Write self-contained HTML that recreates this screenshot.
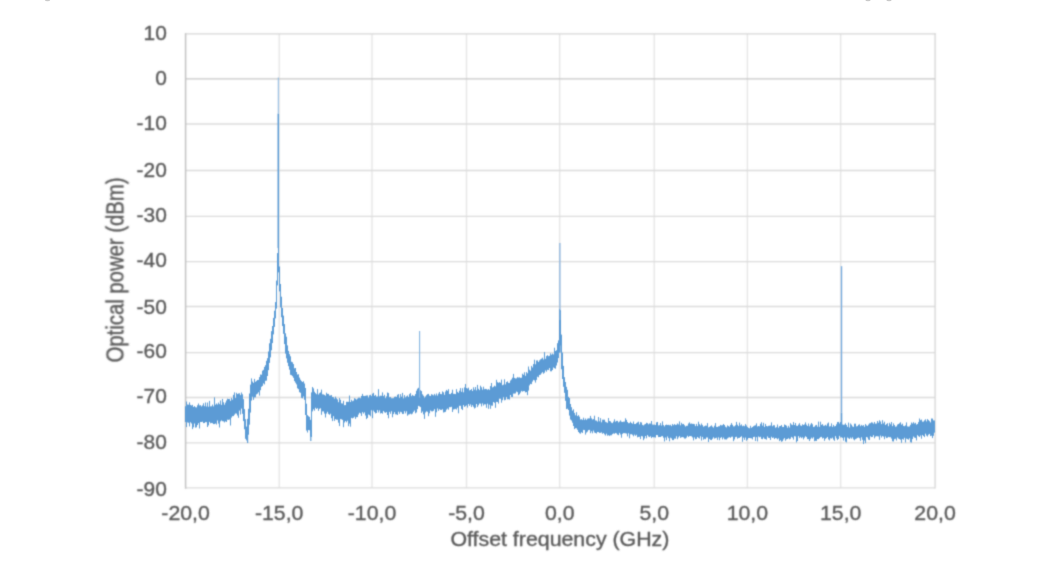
<!DOCTYPE html>
<html><head><meta charset="utf-8"><style>
html,body{margin:0;padding:0;background:#fff;width:1053px;height:573px;overflow:hidden}
svg{display:block;font-family:"Liberation Sans",sans-serif}
.g{stroke:#dbdbdb;stroke-width:1.3}
.gv{stroke:#e4e4e4;stroke-width:1.3}
.ax0{stroke:#c6c6c6;stroke-width:1.3}
.ax{stroke:#c2c2c2;stroke-width:1.5;stroke-linecap:square}
.bd{stroke:#d6d6d6;stroke-width:1.3;stroke-linecap:square}
.t{fill:#595959;font-size:20px;stroke:#595959;stroke-width:0.35}
.tr{stroke:#5b9bd5;stroke-width:1.0;fill:none}
</style></head><body>
<svg width="1053" height="573" viewBox="0 0 1053 573">
<defs><filter id="bt" x="-2%" y="-2%" width="104%" height="104%" filterUnits="objectBoundingBox"><feConvolveMatrix order="5" kernelMatrix="0.00023 0.00332 0.00809 0.00332 0.00023 0.00332 0.04785 0.11640 0.04785 0.00332 0.00809 0.11640 0.28313 0.11640 0.00809 0.00332 0.04785 0.11640 0.04785 0.00332 0.00023 0.00332 0.00809 0.00332 0.00023" divisor="1" preserveAlpha="false" edgeMode="none"/></filter><filter id="bg" x="-2%" y="-2%" width="104%" height="104%" filterUnits="objectBoundingBox"><feConvolveMatrix order="5" kernelMatrix="0.00009 0.00198 0.00548 0.00198 0.00009 0.00198 0.04220 0.11707 0.04220 0.00198 0.00548 0.11707 0.32480 0.11707 0.00548 0.00198 0.04220 0.11707 0.04220 0.00198 0.00009 0.00198 0.00548 0.00198 0.00009" divisor="1" preserveAlpha="false" edgeMode="none"/></filter><filter id="bl" x="-2%" y="-2%" width="104%" height="104%" filterUnits="objectBoundingBox"><feConvolveMatrix order="5" kernelMatrix="0.00001 0.00042 0.00170 0.00042 0.00001 0.00042 0.02740 0.10988 0.02740 0.00042 0.00170 0.10988 0.44065 0.10988 0.00170 0.00042 0.02740 0.10988 0.02740 0.00042 0.00001 0.00042 0.00170 0.00042 0.00001" divisor="1" preserveAlpha="false" edgeMode="none"/></filter></defs><g fill="#8a8a8a" opacity="0.45"><ellipse cx="47.5" cy="0" rx="2.6" ry="1.3"/><ellipse cx="868" cy="0" rx="2.6" ry="1.2"/><ellipse cx="889" cy="0" rx="2.6" ry="1.2"/></g><g filter="url(#bg)"><line x1="279.2" y1="33.9" x2="279.2" y2="487.9" class="gv"/><line x1="372.0" y1="33.9" x2="372.0" y2="487.9" class="gv"/><line x1="466.5" y1="33.9" x2="466.5" y2="487.9" class="gv"/><line x1="559.7" y1="33.9" x2="559.7" y2="487.9" class="gv"/><line x1="654.2" y1="33.9" x2="654.2" y2="487.9" class="gv"/><line x1="747.4" y1="33.9" x2="747.4" y2="487.9" class="gv"/><line x1="840.7" y1="33.9" x2="840.7" y2="487.9" class="gv"/><line x1="185.6" y1="124.0" x2="935.1" y2="124.0" class="g"/><line x1="185.6" y1="170.5" x2="935.1" y2="170.5" class="g"/><line x1="185.6" y1="216.3" x2="935.1" y2="216.3" class="g"/><line x1="185.6" y1="261.7" x2="935.1" y2="261.7" class="g"/><line x1="185.6" y1="306.5" x2="935.1" y2="306.5" class="g"/><line x1="185.6" y1="352.6" x2="935.1" y2="352.6" class="g"/><line x1="185.6" y1="397.5" x2="935.1" y2="397.5" class="g"/><line x1="185.6" y1="442.9" x2="935.1" y2="442.9" class="g"/><line x1="185.6" y1="487.9" x2="935.1" y2="487.9" class="g"/><line x1="185.6" y1="33.9" x2="935.1" y2="33.9" class="bd"/><line x1="935.1" y1="33.9" x2="935.1" y2="487.9" class="bd"/><line x1="185.6" y1="78.9" x2="935.1" y2="78.9" class="ax0"/><line x1="185.6" y1="33.9" x2="185.6" y2="487.9" class="ax"/></g>
<g class="t" filter="url(#bt)"><text x="166.8" y="40.25" text-anchor="end" textLength="23.25" lengthAdjust="spacingAndGlyphs">10</text><text x="166.8" y="84.65" text-anchor="end" textLength="11.62" lengthAdjust="spacingAndGlyphs">0</text><text x="166.8" y="130.15" text-anchor="end" textLength="30.21" lengthAdjust="spacingAndGlyphs">-10</text><text x="166.8" y="177.10" text-anchor="end" textLength="30.21" lengthAdjust="spacingAndGlyphs">-20</text><text x="166.8" y="222.10" text-anchor="end" textLength="30.21" lengthAdjust="spacingAndGlyphs">-30</text><text x="166.8" y="267.30" text-anchor="end" textLength="30.21" lengthAdjust="spacingAndGlyphs">-40</text><text x="166.8" y="313.90" text-anchor="end" textLength="30.21" lengthAdjust="spacingAndGlyphs">-50</text><text x="166.8" y="358.40" text-anchor="end" textLength="30.21" lengthAdjust="spacingAndGlyphs">-60</text><text x="166.8" y="403.40" text-anchor="end" textLength="30.21" lengthAdjust="spacingAndGlyphs">-70</text><text x="166.8" y="449.00" text-anchor="end" textLength="30.21" lengthAdjust="spacingAndGlyphs">-80</text><text x="166.8" y="496.10" text-anchor="end" textLength="30.21" lengthAdjust="spacingAndGlyphs">-90</text><text x="185.60" y="519.6" text-anchor="middle" textLength="48.50" lengthAdjust="spacingAndGlyphs">-20,0</text><text x="279.20" y="519.6" text-anchor="middle" textLength="48.50" lengthAdjust="spacingAndGlyphs">-15,0</text><text x="372.00" y="519.6" text-anchor="middle" textLength="48.50" lengthAdjust="spacingAndGlyphs">-10,0</text><text x="466.50" y="519.6" text-anchor="middle" textLength="36.67" lengthAdjust="spacingAndGlyphs">-5,0</text><text x="559.70" y="519.6" text-anchor="middle" textLength="29.58" lengthAdjust="spacingAndGlyphs">0,0</text><text x="654.20" y="519.6" text-anchor="middle" textLength="29.58" lengthAdjust="spacingAndGlyphs">5,0</text><text x="747.40" y="519.6" text-anchor="middle" textLength="41.42" lengthAdjust="spacingAndGlyphs">10,0</text><text x="840.70" y="519.6" text-anchor="middle" textLength="41.42" lengthAdjust="spacingAndGlyphs">15,0</text><text x="935.10" y="519.6" text-anchor="middle" textLength="41.42" lengthAdjust="spacingAndGlyphs">20,0</text>
<text x="559.9" y="546.0" text-anchor="middle" textLength="219" lengthAdjust="spacingAndGlyphs" style="font-size:19.5px">Offset frequency (GHz)</text>
<text transform="translate(123.6 269.9) rotate(-90) scale(1 1.22)" x="0" y="0" text-anchor="middle" textLength="185" lengthAdjust="spacingAndGlyphs" style="font-size:19px">Optical power (dBm)</text>
</g>
<g filter="url(#bl)"><path class="tr" d="M185.5 406.3V422.1M186.5 401.5V427.1M187.5 404.5V422.4M188.5 404.7V422.8M189.5 402.4V426.4M190.5 404.9V422.3M191.5 405.5V423.5M192.5 404.9V429.1M193.5 407.0V427.3M194.5 406.1V423.5M195.5 407.2V427.6M196.5 407.4V427.3M197.5 405.3V425.0M198.5 403.5V423.2M199.5 405.4V428.5M200.5 405.2V422.0M201.5 406.4V422.0M202.5 405.4V421.7M203.5 403.3V423.1M204.5 406.2V423.0M205.5 402.5V422.1M206.5 406.5V422.2M207.5 402.5V427.0M208.5 406.7V425.4M209.5 400.9V421.9M210.5 406.4V423.3M211.5 406.3V422.9M212.5 404.6V423.2M213.5 406.4V424.1M214.5 397.4V424.1M215.5 404.7V423.5M216.5 403.5V424.5M217.5 404.5V420.5M218.5 402.6V423.6M219.5 404.2V427.5M220.5 400.5V421.4M221.5 404.9V420.4M222.5 398.9V421.2M223.5 402.3V421.4M224.5 404.7V422.4M225.5 402.6V421.3M226.5 400.5V422.0M227.5 398.7V419.7M228.5 399.0V419.9M229.5 398.9V419.5M230.5 400.9V425.5M231.5 397.9V417.6M232.5 399.6V416.2M233.5 394.9V416.1M234.5 392.4V414.7M235.5 397.9V413.5M236.5 392.8V413.6M237.5 394.1V415.5M238.5 393.5V417.8M239.5 393.3V410.6M240.5 395.1V414.5M241.5 392.5V408.6M242.5 394.3V413.8M243.5 399.2V421.1M244.5 409.1V429.3M245.5 419.2V438.8M246.5 426.6V440.4M247.5 418.9V438.5M248.5 408.8V434.7M249.5 393.5V424.7M250.5 384.6V412.6M251.5 378.4V400.6M252.5 381.6V396.8M253.5 382.9V399.9M254.5 378.9V397.4M255.5 381.8V397.3M256.5 380.9V394.4M257.5 380.0V393.7M258.5 379.9V392.3M259.5 377.1V395.6M260.5 374.5V390.2M261.5 374.7V386.8M262.5 370.7V385.9M263.5 369.8V383.4M264.5 366.9V384.4M265.5 365.2V380.8M266.5 360.8V380.6M267.5 358.2V376.0M268.5 351.5V370.2M269.5 343.3V362.9M270.5 338.8V357.4M271.5 331.2V350.3M272.5 326.0V343.1M273.5 317.9V334.4M274.5 310.7V326.9M275.5 302.1V318.4M276.5 280.6V308.6M277.5 253.1V285.4M278.5 244.5V272.4M279.5 266.5V291.4M280.5 284.0V307.4M281.5 296.7V317.3M282.5 307.9V326.1M283.5 315.6V333.8M284.5 324.1V344.1M285.5 333.3V353.6M286.5 336.7V358.4M287.5 345.4V362.7M288.5 350.9V366.2M289.5 354.1V369.7M290.5 356.3V374.8M291.5 361.7V375.2M292.5 362.3V376.2M293.5 364.1V377.8M294.5 368.3V381.1M295.5 368.0V382.7M296.5 372.0V384.4M297.5 374.5V388.3M298.5 374.3V389.2M299.5 377.6V392.2M300.5 379.7V392.8M301.5 381.1V397.8M302.5 382.0V398.3M303.5 381.3V396.5M304.5 383.5V399.8M305.5 388.0V415.0M306.5 403.7V430.5M307.5 415.1V432.5M308.5 416.2V430.0M309.5 416.9V430.3M310.5 419.8V436.5M311.5 392.4V437.0M312.5 387.0V411.4M313.5 388.4V409.3M314.5 391.7V410.7M315.5 393.1V407.8M316.5 394.2V409.0M317.5 389.1V408.2M318.5 394.5V410.9M319.5 393.2V408.8M320.5 392.4V408.3M321.5 389.6V414.8M322.5 394.3V411.4M323.5 394.4V411.4M324.5 394.9V413.6M325.5 395.7V417.5M326.5 392.7V413.6M327.5 393.9V411.8M328.5 393.9V413.9M329.5 395.5V414.8M330.5 395.5V413.7M331.5 395.1V418.2M332.5 397.0V421.1M333.5 397.2V416.2M334.5 398.6V420.9M335.5 396.7V419.1M336.5 398.3V419.7M337.5 399.4V419.7M338.5 402.2V422.7M339.5 398.0V426.1M340.5 399.8V419.1M341.5 403.3V419.3M342.5 403.5V419.9M343.5 400.8V427.2M344.5 405.2V422.5M345.5 405.1V421.0M346.5 401.8V422.3M347.5 401.8V420.7M348.5 401.8V426.2M349.5 395.5V423.6M350.5 402.0V426.7M351.5 399.8V417.9M352.5 401.2V418.4M353.5 400.6V417.8M354.5 398.2V416.7M355.5 398.7V418.9M356.5 399.6V417.2M357.5 398.6V417.1M358.5 397.7V414.6M359.5 397.6V412.8M360.5 398.2V413.4M361.5 396.0V415.9M362.5 393.9V412.2M363.5 395.9V413.6M364.5 396.1V412.4M365.5 395.8V415.5M366.5 395.5V419.1M367.5 395.4V417.9M368.5 397.5V414.5M369.5 395.3V415.1M370.5 394.8V416.3M371.5 396.1V410.3M372.5 393.7V418.2M373.5 392.9V410.6M374.5 395.8V412.1M375.5 394.9V413.4M376.5 396.6V413.0M377.5 396.5V410.1M378.5 389.2V412.5M379.5 396.4V410.4M380.5 395.7V413.5M381.5 395.8V413.0M382.5 392.4V413.7M383.5 396.2V411.0M384.5 394.8V412.3M385.5 398.1V412.8M386.5 396.4V412.1M387.5 392.5V415.0M388.5 393.1V418.3M389.5 397.2V411.9M390.5 397.1V413.8M391.5 398.2V411.3M392.5 398.2V417.3M393.5 398.1V414.1M394.5 396.9V412.2M395.5 396.6V414.3M396.5 397.0V414.4M397.5 394.8V415.0M398.5 394.1V411.7M399.5 397.9V413.8M400.5 394.1V411.8M401.5 396.7V412.3M402.5 392.9V414.0M403.5 398.3V413.9M404.5 395.1V411.2M405.5 397.4V413.4M406.5 396.4V411.3M407.5 395.5V415.7M408.5 397.0V414.6M409.5 394.2V414.3M410.5 393.1V413.7M411.5 396.2V414.4M412.5 394.9V413.6M413.5 395.8V411.8M414.5 395.9V410.5M415.5 394.1V413.3M416.5 390.7V412.4M417.5 388.7V409.1M418.5 387.8V405.9M419.5 391.8V406.4M420.5 390.2V407.1M421.5 391.1V412.9M422.5 394.3V411.5M423.5 395.7V414.4M424.5 397.6V418.9M425.5 396.5V412.5M426.5 395.2V411.4M427.5 394.2V411.8M428.5 393.9V416.2M429.5 395.6V413.3M430.5 396.0V410.5M431.5 394.2V411.3M432.5 394.7V411.4M433.5 395.4V410.8M434.5 393.9V409.2M435.5 395.4V416.8M436.5 393.5V412.3M437.5 395.6V408.5M438.5 393.6V410.9M439.5 392.0V409.2M440.5 394.0V409.9M441.5 394.2V409.9M442.5 391.4V409.3M443.5 392.3V412.5M444.5 394.8V412.2M445.5 391.5V411.8M446.5 389.9V409.7M447.5 390.8V408.6M448.5 389.2V409.7M449.5 394.0V407.2M450.5 394.1V407.2M451.5 392.9V406.8M452.5 389.7V412.0M453.5 393.8V409.5M454.5 393.9V409.2M455.5 394.1V408.8M456.5 389.2V409.5M457.5 391.9V407.7M458.5 392.8V413.3M459.5 390.7V405.8M460.5 388.1V405.8M461.5 391.8V408.9M462.5 388.2V410.0M463.5 392.3V405.1M464.5 387.4V406.9M465.5 384.0V406.2M466.5 388.0V405.4M467.5 388.6V407.6M468.5 387.7V404.0M469.5 390.4V405.9M470.5 390.0V404.4M471.5 389.0V407.0M472.5 391.0V405.2M473.5 387.3V406.8M474.5 389.6V408.5M475.5 387.0V407.7M476.5 390.3V404.0M477.5 384.9V407.1M478.5 388.8V405.3M479.5 390.1V403.6M480.5 385.7V403.6M481.5 387.3V406.4M482.5 389.7V403.4M483.5 386.7V405.5M484.5 389.2V404.3M485.5 388.9V404.4M486.5 389.1V407.8M487.5 389.8V403.7M488.5 389.1V408.8M489.5 389.9V404.7M490.5 386.1V408.8M491.5 383.0V405.6M492.5 387.4V405.7M493.5 386.8V402.0M494.5 385.7V402.8M495.5 386.4V407.8M496.5 379.8V401.9M497.5 382.2V402.0M498.5 382.8V403.6M499.5 382.2V398.6M500.5 382.8V398.7M501.5 379.6V402.7M502.5 385.2V400.2M503.5 384.6V397.2M504.5 379.3V400.3M505.5 384.4V399.8M506.5 382.0V397.0M507.5 381.4V399.3M508.5 382.9V399.2M509.5 382.9V399.6M510.5 380.5V395.0M511.5 379.4V397.0M512.5 377.7V397.1M513.5 373.9V393.6M514.5 377.9V393.6M515.5 378.5V393.4M516.5 378.3V391.6M517.5 377.2V392.2M518.5 377.6V395.2M519.5 377.3V394.2M520.5 377.9V392.6M521.5 377.7V390.9M522.5 373.7V391.6M523.5 374.8V391.1M524.5 372.3V391.1M525.5 375.8V392.4M526.5 372.1V392.1M527.5 373.3V395.2M528.5 366.5V390.6M529.5 369.7V385.4M530.5 370.7V383.9M531.5 365.9V384.2M532.5 367.5V381.6M533.5 364.1V379.9M534.5 359.7V380.4M535.5 364.3V382.6M536.5 360.5V379.9M537.5 360.4V376.7M538.5 362.0V377.3M539.5 360.4V375.0M540.5 359.4V374.7M541.5 358.7V373.4M542.5 357.7V372.2M543.5 359.5V373.7M544.5 352.2V372.7M545.5 358.8V370.4M546.5 356.1V371.7M547.5 355.2V369.8M548.5 356.2V370.1M549.5 355.8V368.1M550.5 353.3V371.3M551.5 354.7V371.3M552.5 353.5V370.0M553.5 354.4V367.5M554.5 347.7V368.2M555.5 351.0V368.7M556.5 350.2V365.5M557.5 343.2V362.5M558.5 340.4V358.1M559.5 309.0V352.5M560.5 310.2V345.5M561.5 334.6V369.3M562.5 352.6V379.0M563.5 365.9V386.8M564.5 377.2V392.8M565.5 382.0V400.8M566.5 386.8V409.1M567.5 389.8V408.7M568.5 396.9V410.0M569.5 398.0V415.6M570.5 404.0V419.5M571.5 407.2V420.5M572.5 410.6V422.7M573.5 409.3V426.0M574.5 412.9V429.1M575.5 415.3V428.2M576.5 412.2V428.3M577.5 416.1V429.8M578.5 415.2V432.0M579.5 416.7V433.2M580.5 419.5V433.7M581.5 419.2V432.2M582.5 419.9V433.0M583.5 417.7V429.9M584.5 419.9V430.1M585.5 418.5V434.6M586.5 419.9V432.6M587.5 418.7V431.6M588.5 418.4V430.1M589.5 418.4V429.9M590.5 415.9V433.2M591.5 418.3V431.3M592.5 419.5V433.3M593.5 419.1V430.6M594.5 415.7V432.5M595.5 420.4V433.0M596.5 420.6V433.5M597.5 421.6V432.0M598.5 417.0V432.1M599.5 421.3V432.9M600.5 418.1V432.8M601.5 422.3V432.4M602.5 419.7V433.8M603.5 419.7V433.0M604.5 419.7V434.3M605.5 421.8V435.5M606.5 422.3V433.7M607.5 422.8V435.7M608.5 418.0V435.2M609.5 421.0V435.9M610.5 421.4V435.3M611.5 422.7V435.3M612.5 423.1V434.1M613.5 421.6V433.4M614.5 419.3V433.8M615.5 421.7V433.0M616.5 420.9V433.4M617.5 420.9V434.6M618.5 422.4V435.2M619.5 421.6V432.9M620.5 420.4V434.5M621.5 421.7V437.7M622.5 422.0V433.9M623.5 421.7V433.1M624.5 421.6V433.2M625.5 418.3V433.3M626.5 419.9V433.6M627.5 422.0V436.4M628.5 423.2V433.3M629.5 423.1V438.3M630.5 421.7V434.3M631.5 423.0V434.2M632.5 423.7V434.8M633.5 421.5V436.3M634.5 424.0V434.6M635.5 424.0V435.8M636.5 423.1V434.8M637.5 422.4V437.3M638.5 421.7V436.9M639.5 424.4V436.8M640.5 422.1V439.1M641.5 422.5V436.1M642.5 424.9V436.4M643.5 425.4V440.2M644.5 424.5V438.5M645.5 424.0V436.0M646.5 422.8V438.3M647.5 423.2V435.1M648.5 424.3V436.5M649.5 423.4V437.1M650.5 423.6V436.3M651.5 421.0V438.1M652.5 424.5V437.0M653.5 424.7V437.4M654.5 424.6V437.3M655.5 425.0V437.6M656.5 422.4V435.0M657.5 422.0V435.2M658.5 425.4V437.1M659.5 425.2V437.0M660.5 423.0V437.0M661.5 425.5V436.3M662.5 421.4V436.1M663.5 425.1V437.7M664.5 426.4V441.5M665.5 425.0V437.5M666.5 424.6V440.2M667.5 425.0V436.5M668.5 424.8V438.2M669.5 425.3V441.3M670.5 424.8V437.7M671.5 426.1V438.4M672.5 424.0V440.1M673.5 425.2V440.1M674.5 424.1V438.6M675.5 424.9V438.7M676.5 424.7V436.3M677.5 423.5V439.2M678.5 424.4V437.4M679.5 421.4V436.1M680.5 425.3V437.9M681.5 422.8V437.3M682.5 424.2V437.1M683.5 423.9V437.4M684.5 425.2V438.5M685.5 426.5V438.6M686.5 425.8V437.6M687.5 425.7V435.8M688.5 423.5V437.0M689.5 422.4V436.1M690.5 423.8V436.1M691.5 423.5V436.3M692.5 423.9V437.4M693.5 423.9V440.4M694.5 424.2V437.4M695.5 426.1V439.2M696.5 423.9V438.8M697.5 426.1V437.0M698.5 421.7V437.9M699.5 424.2V438.6M700.5 425.4V436.3M701.5 423.5V440.5M702.5 425.1V436.9M703.5 426.7V439.7M704.5 426.2V438.8M705.5 425.6V439.2M706.5 425.7V437.5M707.5 423.1V437.5M708.5 427.4V442.1M709.5 426.9V438.9M710.5 426.2V439.9M711.5 425.4V440.1M712.5 426.7V438.8M713.5 427.6V437.3M714.5 425.7V438.6M715.5 423.1V438.2M716.5 426.8V437.7M717.5 427.0V439.9M718.5 426.3V437.4M719.5 426.2V440.2M720.5 424.9V437.9M721.5 425.4V437.2M722.5 425.2V439.4M723.5 424.0V437.6M724.5 425.0V439.3M725.5 426.7V439.4M726.5 427.4V439.5M727.5 425.4V438.4M728.5 426.1V437.6M729.5 426.7V437.2M730.5 424.9V437.8M731.5 423.1V436.8M732.5 424.8V436.7M733.5 426.4V441.2M734.5 426.3V439.4M735.5 425.3V437.1M736.5 421.9V436.8M737.5 424.7V438.7M738.5 426.1V437.9M739.5 422.6V437.9M740.5 425.4V437.0M741.5 424.4V436.3M742.5 426.2V441.8M743.5 425.6V437.7M744.5 426.2V439.9M745.5 424.1V437.6M746.5 425.5V440.7M747.5 427.0V439.6M748.5 427.9V438.0M749.5 428.3V438.0M750.5 425.8V438.2M751.5 427.8V438.3M752.5 427.0V439.4M753.5 426.2V437.0M754.5 425.6V436.8M755.5 425.3V441.0M756.5 423.4V437.2M757.5 426.5V441.4M758.5 426.0V436.5M759.5 426.3V437.3M760.5 423.8V436.8M761.5 422.3V438.9M762.5 425.6V439.2M763.5 422.8V437.5M764.5 426.9V438.8M765.5 423.9V439.1M766.5 426.0V439.7M767.5 426.4V436.5M768.5 425.8V437.9M769.5 425.7V438.0M770.5 425.5V440.0M771.5 422.4V436.8M772.5 426.2V438.0M773.5 425.2V437.5M774.5 425.3V439.0M775.5 427.7V438.0M776.5 427.2V438.3M777.5 424.5V439.3M778.5 427.7V438.4M779.5 426.2V441.1M780.5 426.0V440.2M781.5 425.0V441.8M782.5 426.9V441.2M783.5 427.0V439.4M784.5 424.5V438.1M785.5 425.0V440.7M786.5 425.7V439.3M787.5 427.7V439.0M788.5 425.8V438.2M789.5 427.5V439.3M790.5 423.2V438.7M791.5 424.5V436.9M792.5 425.1V437.7M793.5 422.1V439.6M794.5 425.0V436.2M795.5 423.0V436.5M796.5 425.7V442.4M797.5 425.9V441.0M798.5 424.6V436.2M799.5 423.2V438.1M800.5 425.4V436.9M801.5 425.9V438.2M802.5 424.3V437.3M803.5 425.0V439.4M804.5 424.4V437.7M805.5 422.4V436.3M806.5 424.7V437.1M807.5 426.0V439.1M808.5 423.5V439.2M809.5 426.3V441.0M810.5 424.5V439.2M811.5 423.0V437.7M812.5 424.3V438.6M813.5 427.0V437.3M814.5 426.6V441.2M815.5 425.4V440.8M816.5 424.9V440.9M817.5 426.7V439.0M818.5 421.6V439.2M819.5 426.8V438.2M820.5 421.7V437.2M821.5 424.9V436.9M822.5 424.1V438.5M823.5 425.7V437.9M824.5 425.7V440.8M825.5 424.8V438.8M826.5 425.7V438.1M827.5 423.5V437.0M828.5 422.5V439.4M829.5 426.5V440.4M830.5 426.2V438.3M831.5 423.4V438.6M832.5 426.9V437.7M833.5 424.9V439.6M834.5 426.4V440.8M835.5 426.0V436.2M836.5 424.3V438.4M837.5 422.1V440.1M838.5 421.9V439.0M839.5 423.5V435.9M840.5 422.0V437.5M841.5 420.7V437.3M842.5 424.5V437.9M843.5 424.8V440.6M844.5 424.6V437.4M845.5 423.4V441.7M846.5 425.0V442.4M847.5 426.9V437.5M848.5 422.6V438.3M849.5 427.5V439.0M850.5 423.5V437.6M851.5 424.7V438.7M852.5 426.4V437.4M853.5 426.9V439.3M854.5 423.7V440.3M855.5 423.7V439.1M856.5 426.4V438.6M857.5 426.1V437.9M858.5 424.8V437.5M859.5 424.3V438.2M860.5 426.2V440.8M861.5 424.9V437.3M862.5 425.8V439.8M863.5 425.1V444.0M864.5 426.8V440.6M865.5 424.1V443.2M866.5 425.4V437.0M867.5 425.9V437.5M868.5 424.6V439.6M869.5 423.4V440.0M870.5 423.2V436.3M871.5 422.3V437.1M872.5 422.6V436.9M873.5 423.7V435.2M874.5 422.0V438.3M875.5 423.7V436.6M876.5 423.5V436.2M877.5 421.0V436.3M878.5 422.7V436.5M879.5 420.3V439.8M880.5 421.5V435.6M881.5 424.1V437.5M882.5 420.2V436.1M883.5 423.4V436.6M884.5 421.7V439.2M885.5 425.0V436.5M886.5 424.1V438.1M887.5 423.2V437.7M888.5 426.2V436.9M889.5 422.8V437.3M890.5 424.3V437.2M891.5 422.0V438.6M892.5 426.1V441.3M893.5 423.4V441.5M894.5 425.1V439.2M895.5 426.7V438.7M896.5 426.4V440.5M897.5 424.6V437.5M898.5 424.0V438.6M899.5 423.3V439.1M900.5 422.3V439.7M901.5 424.7V442.8M902.5 423.7V439.0M903.5 425.9V439.7M904.5 426.2V437.8M905.5 425.4V442.5M906.5 422.4V438.6M907.5 426.4V439.1M908.5 426.6V439.7M909.5 426.4V438.3M910.5 424.8V442.3M911.5 422.5V442.6M912.5 423.5V439.1M913.5 422.2V436.6M914.5 423.5V437.6M915.5 422.8V437.9M916.5 424.6V440.4M917.5 424.0V435.2M918.5 422.1V436.2M919.5 418.5V437.0M920.5 420.2V435.5M921.5 419.6V438.7M922.5 421.7V435.0M923.5 421.6V436.0M924.5 420.4V437.1M925.5 419.3V433.7M926.5 421.4V435.6M927.5 419.1V436.5M928.5 420.1V434.7M929.5 421.1V433.9M930.5 422.4V436.1M931.5 418.5V435.7M932.5 418.6V438.1M933.5 420.4V435.8M934.5 420.5V432.7"/>
<path class="tr" d="M247.6 424.7 V442.9" style="stroke-width:1.2"/>
<path class="tr" d="M310.8 420.2 V441.1" style="stroke-width:1.2"/>
<path class="tr" d="M278.3 77.6 V113.6" style="stroke:#8fbae3;stroke-width:1.0"/>
<path class="tr" d="M278.3 113.6 V248.1" style="stroke-width:1.5"/>
<path class="tr" d="M419.6 330.9 V397.5" style="stroke:#86b5e1;stroke-width:1.1"/>
<path class="tr" d="M559.9 243.1 V320.3" style="stroke:#7fb0df;stroke-width:1.1"/>
<path class="tr" d="M559.9 320.3 V352.6" style="stroke-width:1.6"/>
<path class="tr" d="M841.5 266.2 V412.5" style="stroke:#78acde;stroke-width:1.4"/>
<path class="tr" d="M841.5 412.5 V429.3" style="stroke-width:1.5"/></g>
</svg>
</body></html>
